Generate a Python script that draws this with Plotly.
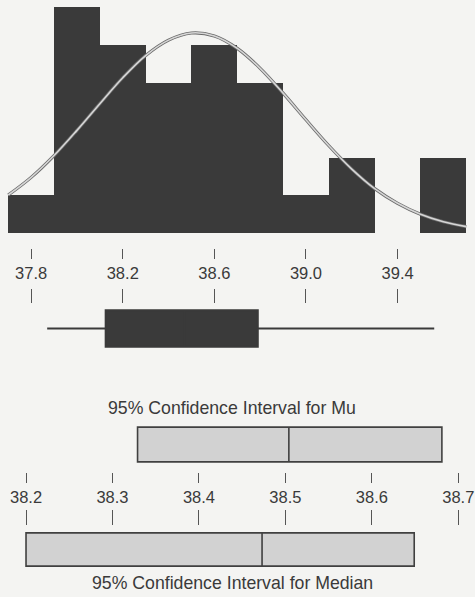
import plotly.graph_objects as go

# ---- data ----
bin_centers = [37.8, 38.0, 38.2, 38.4, 38.6, 38.8, 39.0, 39.2, 39.4, 39.6]
bin_counts = [1, 6, 5, 4, 5, 4, 1, 2, 0, 2]
bin_width = 0.2

curve_x = [37.7, 37.8, 37.9, 38.0, 38.1, 38.2, 38.3, 38.4, 38.5, 38.6, 38.7,
           38.8, 38.9, 39.0, 39.1, 39.2, 39.3, 39.4, 39.5, 39.6, 39.7]
curve_y = [1.01, 1.48, 2.06, 2.73, 3.44, 4.13, 4.72, 5.13, 5.32, 5.24, 4.91,
           4.38, 3.72, 3.01, 2.32, 1.70, 1.18, 0.79, 0.50, 0.30, 0.17]

box_min, box_q1, box_median, box_q3, box_max = 37.87, 38.125, 38.47, 38.79, 39.56

mu_lo, mu_mid, mu_hi = 38.329, 38.504, 38.681
med_lo, med_mid, med_hi = 38.200, 38.473, 38.649

top_ticks = [37.8, 38.2, 38.6, 39.0, 39.4]
top_tick_labels = ["37.8", "38.2", "38.6", "39.0", "39.4"]
ci_ticks = [38.2, 38.3, 38.4, 38.5, 38.6, 38.7]
ci_tick_labels = ["38.2", "38.3", "38.4", "38.5", "38.6", "38.7"]

title_mu = "95% Confidence Interval for Mu"
title_median = "95% Confidence Interval for Median"

# ---- layout helpers ----
H = 597.0
W = 475.0
def fy(py):
    return 1 - py / H

top_range = [37.664, 39.738]
ci_range = [38.1699, 38.7193]

BG = "#f4f4f2"
DARK = "#3a3a3a"
FONT = "Liberation Sans"
TXT = "#3a3a3a"

fig = go.Figure()

# histogram bars
fig.add_trace(go.Bar(x=bin_centers, y=bin_counts, width=bin_width,
                     marker=dict(color=DARK, line=dict(width=0)),
                     xaxis="x", yaxis="y", showlegend=False))
# normal curve: dark halo + light core
fig.add_trace(go.Scatter(x=curve_x, y=curve_y, mode="lines",
                         line=dict(color="#6a6a6a", width=3.2, shape="spline"),
                         xaxis="x", yaxis="y", showlegend=False))
fig.add_trace(go.Scatter(x=curve_x, y=curve_y, mode="lines",
                         line=dict(color="#d6d6d6", width=1.6, shape="spline"),
                         xaxis="x", yaxis="y", showlegend=False))

# boxplot
fig.add_trace(go.Box(q1=[box_q1], median=[box_median], q3=[box_q3],
                     lowerfence=[box_min], upperfence=[box_max], y=[0],
                     orientation="h", width=0.64, whiskerwidth=0,
                     fillcolor=DARK, line=dict(color=DARK, width=1.8),
                     xaxis="x2", yaxis="y2", showlegend=False, hoverinfo="skip"))

# CI for mu
fig.add_trace(go.Box(q1=[mu_lo], median=[mu_mid], q3=[mu_hi],
                     lowerfence=[mu_lo], upperfence=[mu_hi], y=[0],
                     orientation="h", width=0.74, whiskerwidth=0,
                     fillcolor="#d2d2d2", line=dict(color="#404040", width=1.6),
                     xaxis="x3", yaxis="y3", showlegend=False, hoverinfo="skip"))
# CI for median
fig.add_trace(go.Box(q1=[med_lo], median=[med_mid], q3=[med_hi],
                     lowerfence=[med_lo], upperfence=[med_hi], y=[0],
                     orientation="h", width=0.709, whiskerwidth=0,
                     fillcolor="#d2d2d2", line=dict(color="#404040", width=1.6),
                     xaxis="x4", yaxis="y4", showlegend=False, hoverinfo="skip"))

# invisible anchor traces so the free tick axes get drawn
for xa, ya, vals in [("x5", "y", top_ticks), ("x6", "y", top_ticks),
                     ("x7", "y3", ci_ticks), ("x8", "y3", ci_ticks)]:
    fig.add_trace(go.Scatter(x=vals, y=[0] * len(vals), mode="markers",
                             marker=dict(opacity=0, size=1), xaxis=xa, yaxis=ya,
                             showlegend=False, hoverinfo="skip"))

hidden = dict(visible=False, showgrid=False, zeroline=False)
tickax = dict(showgrid=False, zeroline=False, showline=False, ticks="outside",
              tickcolor="#555555", tickwidth=1, ticklabeloverflow="allow",
              tickfont=dict(family=FONT, size=16.5, color=TXT))

fig.update_layout(
    width=475, height=597,
    margin=dict(l=0, r=0, t=0, b=0),
    paper_bgcolor=BG, plot_bgcolor="rgba(0,0,0,0)",
    bargap=0, showlegend=False,
    xaxis=dict(domain=[0, 1], range=top_range, anchor="y", **hidden),
    yaxis=dict(domain=[fy(233), fy(0)], range=[0, 233 / 37.6], **hidden),
    xaxis2=dict(domain=[0, 1], range=top_range, anchor="y2", **hidden),
    yaxis2=dict(domain=[fy(357), fy(300)], range=[-0.5, 0.5], **hidden),
    xaxis3=dict(domain=[0, 1], range=ci_range, anchor="y3", **hidden),
    yaxis3=dict(domain=[fy(468), fy(421)], range=[-0.5, 0.5], **hidden),
    xaxis4=dict(domain=[0, 1], range=ci_range, anchor="y4", **hidden),
    yaxis4=dict(domain=[fy(573), fy(526)], range=[-0.5, 0.5], **hidden),
    # top tick axes
    xaxis5=dict(overlaying="x", anchor="free", position=fy(248), side="bottom",
                range=top_range, tickvals=top_ticks, ticktext=top_tick_labels,
                ticklen=10, **tickax),
    xaxis6=dict(overlaying="x", anchor="free", position=fy(303), side="top",
                range=top_range, tickvals=top_ticks, ticktext=top_tick_labels,
                ticklen=14, showticklabels=False, **tickax),
    # ci tick axes
    xaxis7=dict(overlaying="x3", anchor="free", position=fy(472), side="bottom",
                range=ci_range, tickvals=ci_ticks, ticktext=ci_tick_labels,
                ticklen=10, **tickax),
    xaxis8=dict(overlaying="x3", anchor="free", position=fy(525), side="top",
                range=ci_range, tickvals=ci_ticks, ticktext=ci_tick_labels,
                ticklen=15, showticklabels=False, **tickax),
    annotations=[
        dict(text=title_mu, xref="paper", yref="paper", x=232 / W, y=fy(408),
             xanchor="center", yanchor="middle", showarrow=False,
             font=dict(family=FONT, size=17.7, color=TXT)),
        dict(text=title_median, xref="paper", yref="paper", x=232 / W, y=fy(583),
             xanchor="center", yanchor="middle", showarrow=False,
             font=dict(family=FONT, size=17.7, color=TXT)),
    ],
)

fig.write_html("out.html", config={"displayModeBar": False},
               post_script="document.body.style.margin='0';document.body.style.overflow='hidden';")
